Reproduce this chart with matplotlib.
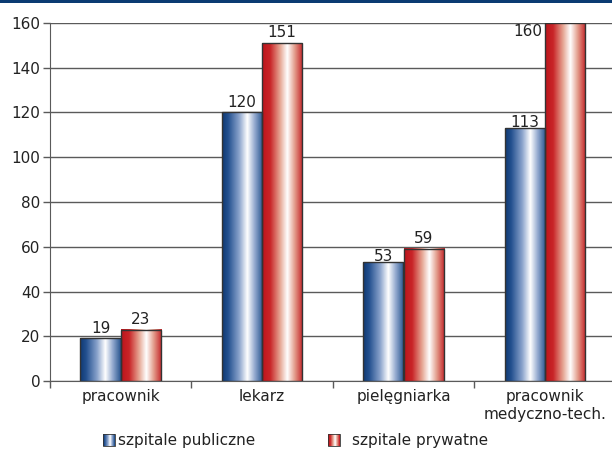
import numpy as np
import matplotlib
matplotlib.use("Agg")
import matplotlib.pyplot as plt
from matplotlib.colors import LinearSegmentedColormap
from matplotlib.patches import Rectangle
from matplotlib.legend_handler import HandlerBase

# data
categories = ["pracownik", "lekarz", "pielęgniarka", "pracownik\nmedyczno-tech."]
publiczne = [19, 120, 53, 113]
prywatne = [23, 151, 59, 160]
series_names = ["szpitale publiczne", "szpitale prywatne"]
y_ticks = [0, 20, 40, 60, 80, 100, 120, 140, 160]

plt.rcParams['font.family'] = ['DejaVu Sans']
FS = 11

# gradient look of the bars (dark edge -> white highlight -> dark edge)
blue_cmap = LinearSegmentedColormap.from_list("blue_grad", [
    (0.0, "#0f3872"), (0.15, "#23508f"), (0.42, "#8aa3cc"),
    (0.62, "#ffffff"), (0.8, "#94aacf"), (1.0, "#27548f")])
red_cmap = LinearSegmentedColormap.from_list("red_grad", [
    (0.0, "#bc141b"), (0.2, "#c92528"), (0.44, "#e6a592"),
    (0.62, "#ffffff"), (0.8, "#e39d8c"), (1.0, "#c32227")])
gradient = np.linspace(0, 1, 256).reshape(1, -1)

EDGE = "#333333"
GRID = "#5a5a5a"
TEXT = "#222222"


class GradientHandler(HandlerBase):
    def __init__(self, cmap):
        super().__init__()
        self.cmap = cmap

    def create_artists(self, legend, orig_handle, xdescent, ydescent,
                       width, height, fontsize, trans):
        artists = []
        n = 24
        size = min(width, height)
        y0 = -ydescent + (height - size) / 2
        x0 = -xdescent
        for k in range(n):
            r = Rectangle((x0 + size * k / n, y0), size / n + 0.3, size,
                          facecolor=self.cmap(k / (n - 1)), edgecolor='none',
                          transform=trans)
            artists.append(r)
        artists.append(Rectangle((x0, y0), size, size, facecolor='none',
                                 edgecolor=EDGE, linewidth=0.6, transform=trans))
        return artists


fig = plt.figure(figsize=(6.12, 4.55), dpi=100)
ax = fig.add_axes([50 / 612, 1 - 381 / 455, 565.6 / 612, 358 / 455])

x = np.arange(len(categories))
width = 0.285

bars_pub = ax.bar(x - width / 2, publiczne, width, facecolor='none',
                  edgecolor=EDGE, linewidth=1, zorder=4)
bars_pry = ax.bar(x + width / 2, prywatne, width, facecolor='none',
                  edgecolor=EDGE, linewidth=1, zorder=4)

for bars, cmap in [(bars_pub, blue_cmap), (bars_pry, red_cmap)]:
    for rect in bars:
        x0, w, h = rect.get_x(), rect.get_width(), rect.get_height()
        ax.imshow(gradient, cmap=cmap, aspect='auto', extent=(x0, x0 + w, 0, h),
                  zorder=3, interpolation='bilinear')

# value labels (a few sit tight on the bar, like in the original)
tight = {(0, 2), (0, 3)}
for s, (bars, vals) in enumerate([(bars_pub, publiczne), (bars_pry, prywatne)]):
    for i, (rect, v) in enumerate(zip(bars, vals)):
        if v >= 158:
            ax.annotate(f"{v}", (rect.get_x(), v), xytext=(-2, -1),
                        textcoords='offset points', ha='right', va='top',
                        fontsize=FS, color=TEXT, zorder=5)
            continue
        dy = -1.5 if (s, i) in tight else 2
        ax.annotate(f"{v}", (rect.get_x() + rect.get_width() / 2, v),
                    xytext=(0, dy), textcoords='offset points',
                    ha='center', va='bottom', fontsize=FS, color=TEXT, zorder=5)

ax.set_xlim(-0.5, len(categories) - 0.5)
ax.set_ylim(0, 160)
ax.set_yticks(y_ticks)
ax.set_yticklabels([str(t) for t in y_ticks])
ax.yaxis.grid(True, color=GRID, linewidth=1)
ax.set_axisbelow(True)

ax.set_xticks(x)
ax.set_xticklabels(categories)
ax.set_xticks(np.arange(-0.5, len(categories) - 0.5, 1.0), minor=True)
ax.tick_params(axis='x', which='major', length=0, pad=6, labelsize=FS, colors=TEXT)
ax.tick_params(axis='x', which='minor', length=5, width=1, color=GRID, direction='out')
ax.tick_params(axis='y', length=5, width=1, color=GRID, labelsize=FS, colors=TEXT, pad=2)

for side in ['top', 'right']:
    ax.spines[side].set_visible(False)
ax.spines['left'].set_color(GRID)
ax.spines['bottom'].set_color(GRID)

# dark band along the top edge
fig.add_artist(Rectangle((0, 1 - 3 / 455), 1, 3 / 455, transform=fig.transFigure,
                         facecolor='#0a3b72', edgecolor='none'))

# two separate legend entries, placed like the original
leg_x = [103 / 612, 328 / 612]
leg_pad = [0.2, 0.8]
for name, cmap, lx, pad in zip(series_names, [blue_cmap, red_cmap], leg_x, leg_pad):
    h = Rectangle((0, 0), 1, 1)
    leg = fig.legend([h], [name], loc='center left',
                     bbox_to_anchor=(lx, 1 - 441 / 455), frameon=False,
                     fontsize=FS, handlelength=0.8, handleheight=0.8,
                     handletextpad=pad, borderpad=0, borderaxespad=0,
                     labelcolor=TEXT, handler_map={h: GradientHandler(cmap)})

fig.savefig("out.png", dpi=100)
